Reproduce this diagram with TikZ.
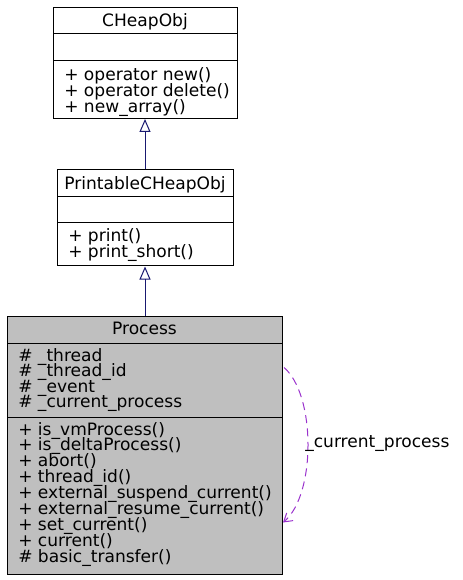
\documentclass[tikz,border=0pt]{standalone}
\usepackage{fontspec}
\setmainfont{DejaVu Sans}
\usetikzlibrary{arrows.meta,fit,calc}
\definecolor{edgeblue}{HTML}{191970}
\definecolor{loopc}{HTML}{9A32CD}
\definecolor{procfill}{HTML}{BFBFBF}
\tikzset{
  box/.style={draw=black, line width=0.75pt, inner sep=0pt, rectangle},
  divider/.style={draw=black, line width=0.75pt},
  txt/.style={inner sep=0pt, font=\fontsize{12.8}{15}\selectfont, anchor=base west},
  ttl/.style={inner sep=0pt, font=\fontsize{12.8}{15}\selectfont, anchor=base},
  inh/.style={draw=edgeblue, line width=0.75pt, -{Triangle[open, length=9.75pt, width=8.25pt, line width=0.75pt]}},
  selfloop/.style={draw=loopc, line width=0.75pt, dash pattern=on 6pt off 4pt, -{Straight Barb[length=6pt, width=7.5pt, line width=0.75pt]}},
}
\begin{document}
\begin{tikzpicture}[x=0.75pt,y=-0.75pt]
\useasboundingbox (0,0) rectangle (462,580);
% CHeapObj
\node[box, fit={(53,7.3)(237,118.5)}] (cheap) {};
\draw[divider] (53,33.3) -- (237,33.3);
\draw[divider] (53,61) -- (237,61);
\node[ttl] (cheapT) at (145,26.7) {CHeapObj};
\node[txt] (c1) at (64,81) {+ operator new()};
\node[txt] (c2) at (64,96.7) {+ operator delete()};
\node[txt] (c3) at (64,112.3) {+ new\_array()};
% PrintableCHeapObj
\node[box, fit={(57,170)(233,266)}] (print) {};
\draw[divider] (57,197) -- (233,197);
\draw[divider] (57,223) -- (233,223);
\node[ttl] (printT) at (145,189.5) {PrintableCHeapObj};
\node[txt] (p1) at (68,241.7) {+ print()};
\node[txt] (p2) at (68,257.3) {+ print\_short()};
% Process
\node[box, fill=procfill, fit={(7,316)(282,574)}] (proc) {};
\draw[divider] (7,343) -- (282,343);
\draw[divider] (7,417.7) -- (282,417.7);
\node[ttl] (procT) at (144.5,334.3) {Process};
\node[txt] (a1) at (18,361.3) {\# \_thread};
\node[txt] (a2) at (18,376.8) {\# \_thread\_id};
\node[txt] (a3) at (18,392.3) {\# \_event};
\node[txt] (a4) at (18,407.8) {\# \_current\_process};
\node[txt] (m1) at (18,435) {+ is\_vmProcess()};
\node[txt] (m2) at (18,450.9) {+ is\_deltaProcess()};
\node[txt] (m3) at (18,466.8) {+ abort()};
\node[txt] (m4) at (18,482.7) {+ thread\_id()};
\node[txt] (m5) at (18,498.6) {+ external\_suspend\_current()};
\node[txt] (m6) at (18,514.5) {+ external\_resume\_current()};
\node[txt] (m7) at (18,530.4) {+ set\_current()};
\node[txt] (m8) at (18,546.3) {+ current()};
\node[txt] (m9) at (18,562.2) {\# basic\_transfer()};
% edges
\draw[inh] (print.north) -- (cheap.south);
\draw[inh] (proc.north -| print.south) -- (print.south);
\coordinate (ls) at ($(proc.north east)+(1.5,52)$);
\coordinate (le) at ($(proc.north east)+(0.5,207)$);
\draw[selfloop] (ls) .. controls (316,395) and (316,495) .. (le);
\node[txt] (lbl) at (305,447) {\_current\_process};
\end{tikzpicture}
\end{document}
